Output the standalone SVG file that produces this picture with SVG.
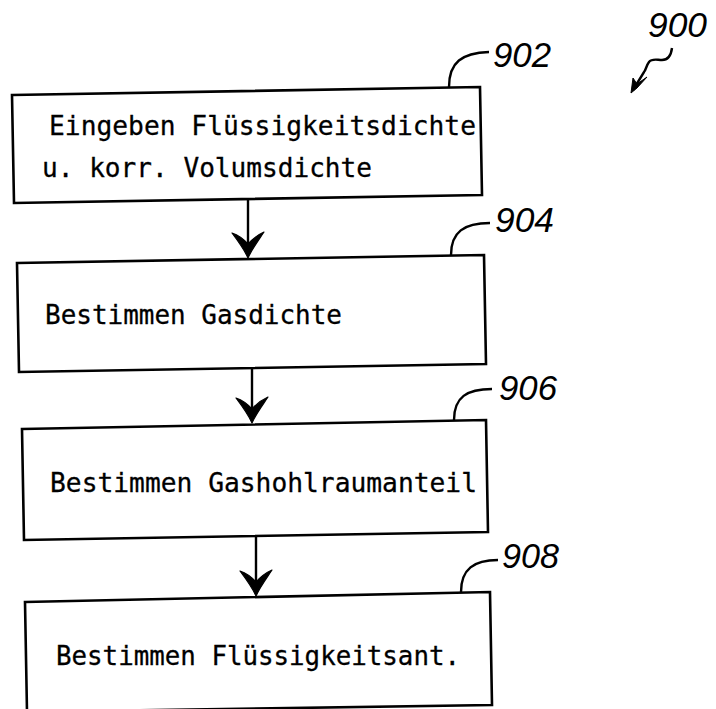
<svg xmlns="http://www.w3.org/2000/svg" width="716" height="709" viewBox="0 0 716 709">
<style>
.box{fill:none;stroke:#000;stroke-width:2.6;stroke-linejoin:miter}
.t{font-family:"DejaVu Sans Mono","Liberation Mono",monospace;font-size:27px;fill:#000;stroke:#000;stroke-width:0.3}
.ref{font-family:"Liberation Sans",Arial,sans-serif;font-style:italic;font-size:35px;fill:#000}
.lead{fill:none;stroke:#000;stroke-width:2.4}
.ln{fill:none;stroke:#000;stroke-width:2.4}
.head{fill:#000;stroke:#000;stroke-width:1}
.ah{fill:#000;stroke:#000;stroke-width:1.2;stroke-linejoin:round}
</style>
<rect width="716" height="709" fill="#fff"/>
<defs>
<path id="ah" class="ah" d="M0,0 C-4,-9 -10,-17 -16,-25 Q-7,-22 0,-14 Q7,-22 16,-26 C10,-17 4,-9 0,0 Z"/>
</defs>

<g id="label-900">
<text class="ref" x="648" y="37" textLength="59" lengthAdjust="spacingAndGlyphs">900</text>
<path class="lead" d="M672,48 C671,56 667,60 662,60 C657,60 652,58 649,62 C646,66 646,70 644,72 L633,90"/>
<path class="head" d="M631,93 L633,78 L637,84 L647,77 L637,88 Z"/>
</g>

<g id="n902">
<path class="box" d="M12,95 L480,87 L482,195 L14,203 Z"/>
<text class="t" x="49" y="135" textLength="427" lengthAdjust="spacingAndGlyphs">Eingeben Flüssigkeitsdichte</text>
<text class="t" x="42" y="177" textLength="330" lengthAdjust="spacingAndGlyphs">u. korr. Volumsdichte</text>
<path class="lead" d="M449,87 C449,62 462,53 489,52"/>
<text class="ref" x="493" y="67" textLength="58" lengthAdjust="spacingAndGlyphs">902</text>
</g>

<g id="n904">
<path class="box" d="M17,263 L484,255 L486,364 L19,372 Z"/>
<text class="t" x="45" y="324" textLength="297" lengthAdjust="spacingAndGlyphs">Bestimmen Gasdichte</text>
<path class="lead" d="M451,255 C451,232 464,223 490,223"/>
<text class="ref" x="495" y="232" textLength="59" lengthAdjust="spacingAndGlyphs">904</text>
</g>

<g id="n906">
<path class="box" d="M22,429 L486,420 L488,532 L24,540 Z"/>
<text class="t" x="50" y="492" textLength="427" lengthAdjust="spacingAndGlyphs">Bestimmen Gashohlraumanteil</text>
<path class="lead" d="M454,420 C454,397 467,389 492,389"/>
<text class="ref" x="499" y="400" textLength="58" lengthAdjust="spacingAndGlyphs">906</text>
</g>

<g id="n908">
<path class="box" d="M25,602 L490,592 L492,705 L27,712 Z"/>
<text class="t" x="56" y="665" textLength="404" lengthAdjust="spacingAndGlyphs">Bestimmen Flüssigkeitsant.</text>
<path class="lead" d="M461,592 C461,569 474,560 498,560"/>
<text class="ref" x="502" y="568" textLength="57" lengthAdjust="spacingAndGlyphs">908</text>
</g>

<g id="connectors">
<line class="ln" x1="248" y1="199" x2="248" y2="245"/>
<use href="#ah" x="248" y="258"/>
<line class="ln" x1="252" y1="368" x2="252" y2="410"/>
<use href="#ah" x="252" y="423"/>
<line class="ln" x1="256" y1="536" x2="256" y2="582"/>
<use href="#ah" x="256" y="596"/>
</g>
</svg>
